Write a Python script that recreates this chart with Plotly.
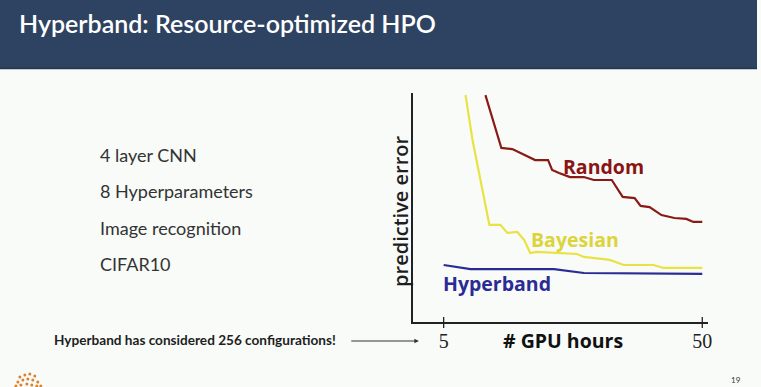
import plotly.graph_objects as go

# ---- data ----
random_x = [12.27, 15.04, 16.94, 20.92, 23.17, 23.87, 25.08, 26.98, 29.40, 31.13, 34.25, 36.15, 38.23, 39.27, 40.83, 42.90, 45.15, 47.23, 48.44, 50.0]
random_y = [0.991, 0.760, 0.755, 0.707, 0.707, 0.664, 0.651, 0.633, 0.633, 0.620, 0.620, 0.546, 0.541, 0.507, 0.502, 0.467, 0.454, 0.450, 0.437, 0.437]

bayes_x = [8.81, 10.02, 12.96, 14.87, 16.08, 17.81, 19.02, 20.06, 21.27, 28.19, 29.40, 33.90, 36.33, 41.52, 43.25, 50.0]
bayes_y = [0.991, 0.795, 0.424, 0.424, 0.389, 0.393, 0.358, 0.301, 0.306, 0.297, 0.284, 0.271, 0.249, 0.249, 0.236, 0.236]

hyper_x = [5.0, 9.67, 24.21, 29.40, 50.0]
hyper_y = [0.249, 0.231, 0.231, 0.214, 0.210]

tick_vals = [5, 50]
tick_text = ["5", "50"]

bullets = ["4 layer CNN", "8 Hyperparameters", "Image recognition", "CIFAR10"]

W, H = 761, 387
BG = "#f8fbf8"

def px(x):
    return x / W

def py(y):
    return 1 - y / H

fig = go.Figure()
fig.add_trace(go.Scatter(x=random_x, y=random_y, mode="lines",
                         line=dict(color="#8a1a16", width=2.2), name="Random"))
fig.add_trace(go.Scatter(x=bayes_x, y=bayes_y, mode="lines",
                         line=dict(color="#e9e244", width=2.2), name="Bayesian"))
fig.add_trace(go.Scatter(x=hyper_x, y=hyper_y, mode="lines",
                         line=dict(color="#2b2b95", width=2.2), name="Hyperband"))

shapes = []
# title bar
shapes.append(dict(type="rect", xref="paper", yref="paper", x0=0, x1=1, y0=py(69), y1=1,
                   fillcolor="#2e4361", line=dict(width=0), layer="below"))
shapes.append(dict(type="line", xref="paper", yref="paper", x0=0, x1=1, y0=py(68.5), y1=py(68.5),
                   line=dict(color="#24354d", width=1.5)))
# crossing tick marks
for tv in tick_vals:
    shapes.append(dict(type="line", xref="x", yref="paper", x0=tv, x1=tv,
                       y0=py(328), y1=py(317), line=dict(color="#222", width=1.3)))
# logo dots
logo = [(20, 377), (25, 375), (30, 374), (35, 376), (18, 382), (23, 380), (28, 379), (33, 380), (38, 382),
        (16, 386), (21, 385), (27, 384), (32, 385), (37, 386), (41, 386)]
for (lx, ly) in logo:
    shapes.append(dict(type="circle", xref="paper", yref="paper",
                       x0=px(lx - 1.5), x1=px(lx + 1.5), y0=py(ly + 1.5), y1=py(ly - 1.5),
                       fillcolor="#d9822b", line=dict(width=0)))

annotations = []
annotations.append(dict(text="Hyperband: Resource-optimized HPO", xref="paper", yref="paper",
                        x=px(17), y=py(23), xanchor="left", yanchor="middle", showarrow=False,
                        font=dict(family="Lato", size=25, color="white", weight=600)))
for i, b in enumerate(bullets):
    annotations.append(dict(text=b, xref="paper", yref="paper", x=px(99), y=py(155 + i * 36.3),
                            xanchor="left", yanchor="middle", showarrow=False,
                            font=dict(family="Lato", size=18, color="#333333")))
annotations.append(dict(text="Hyperband has considered 256 configurations!", xref="paper", yref="paper",
                        x=px(52), y=py(340), xanchor="left", yanchor="middle", showarrow=False,
                        font=dict(family="Lato", size=13.6, color="#1e1e1e", weight=700)))
annotations.append(dict(text="", xref="paper", yref="paper", x=px(421), y=py(341),
                        ax=-69, ay=0, showarrow=True, arrowhead=2, arrowsize=0.8,
                        arrowwidth=1.1, arrowcolor="#333333"))
annotations.append(dict(text="19", xref="paper", yref="paper", x=px(740), y=py(380),
                        xanchor="center", yanchor="middle", showarrow=False,
                        font=dict(family="Lato", size=8, color="#333333")))
annotations.append(dict(text="predictive error", xref="paper", yref="paper", x=px(402), y=py(211),
                        xanchor="center", yanchor="middle", showarrow=False, textangle=-90,
                        font=dict(family="Open Sans", size=20, color="#1e1e1e", weight=600)))
annotations.append(dict(text="# GPU hours", xref="paper", yref="paper", x=px(566), y=py(340),
                        xanchor="center", yanchor="middle", showarrow=False,
                        font=dict(family="Open Sans", size=19.5, color="#111111", weight=700)))
# series labels
annotations.append(dict(text="Random", xref="x", yref="y", x=32.87, y=0.677, showarrow=False,
                        font=dict(family="Open Sans", size=19.5, color="#8a1414", weight=700)))
annotations.append(dict(text="Bayesian", xref="x", yref="y", x=27.85, y=0.362, showarrow=False,
                        font=dict(family="Open Sans", size=19.5, color="#dcd43a", weight=700)))
annotations.append(dict(text="Hyperband", xref="x", yref="y", x=14.35, y=0.170, showarrow=False,
                        font=dict(family="Open Sans", size=19.5, color="#2b2b95", weight=700)))

fig.update_layout(
    width=W, height=H, autosize=False,
    margin=dict(l=0, r=0, t=0, b=0),
    paper_bgcolor=BG, plot_bgcolor=BG,
    showlegend=False,
    shapes=shapes, annotations=annotations,
    xaxis=dict(domain=[px(415), px(712)], range=[-0.365, 51.04],
               showline=True, linecolor="#222", linewidth=1.5, showgrid=False, zeroline=False,
               tickvals=tick_vals, ticktext=tick_text, ticks="",
               tickfont=dict(family="Liberation Serif", size=20, color="#222")),
    yaxis=dict(domain=[py(322), py(93)], range=[0, 1],
               showline=True, linecolor="#222", linewidth=1.5, showgrid=False, zeroline=False,
               showticklabels=False, ticks=""),
)

fig.write_html("out.html", config={"displayModeBar": False},
               post_script="document.body.style.margin='0';document.body.style.overflow='hidden';")
